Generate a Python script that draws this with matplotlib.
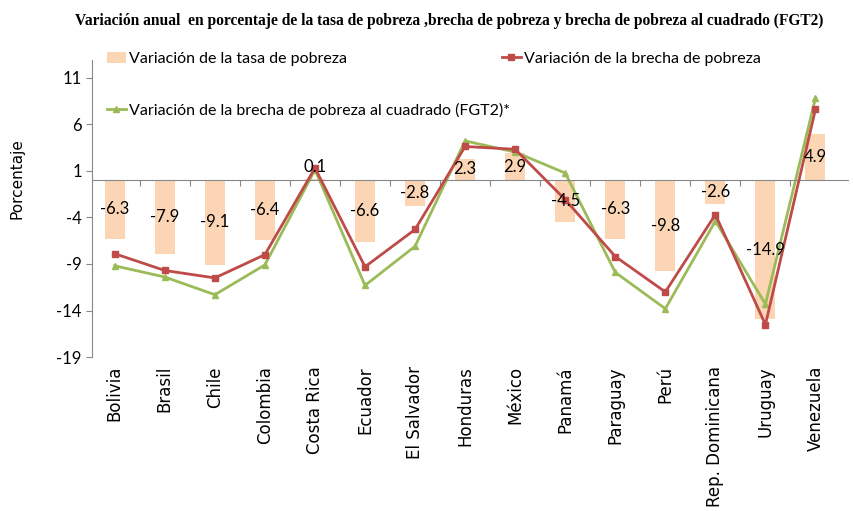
import numpy as np
import matplotlib.pyplot as plt
from matplotlib.transforms import blended_transform_factory

paises = ["Bolivia", "Brasil", "Chile", "Colombia", "Costa Rica", "Ecuador",
          "El Salvador", "Honduras", "México", "Panamá", "Paraguay", "Perú",
          "Rep. Dominicana", "Uruguay", "Venezuela"]
tasa = [-6.3, -7.9, -9.1, -6.4, 0.1, -6.6, -2.8, 2.3, 2.9, -4.5, -6.3, -9.8, -2.6, -14.9, 4.9]
brecha = [-7.9, -9.7, -10.5, -8.0, 1.3, -9.3, -5.3, 3.6, 3.3, -2.1, -8.2, -12.0, -3.7, -15.5, 7.6]
fgt2 = [-9.2, -10.4, -12.3, -9.1, 1.1, -11.3, -7.1, 4.2, 3.0, 0.75, -9.9, -13.8, -4.4, -13.3, 8.8]
yticks = [11, 6, 1, -4, -9, -14, -19]

c_bar = "#FCD5B5"
c_red = "#BE4B48"
c_green = "#9BBB59"
font = "Lato"

fig = plt.figure(figsize=(8.54, 5.11), dpi=100)
ax = fig.add_axes([0.108, 0.301, 0.885, 0.582])
x = np.arange(len(paises))

bars = ax.bar(x, tasa, width=0.4, color=c_bar, zorder=1,
              label="Variación de la tasa de pobreza")
l_red, = ax.plot(x, brecha, color=c_red, lw=2, marker="s", ms=5, zorder=3,
                 label="Variación de la brecha de pobreza")
l_green, = ax.plot(x, fgt2, color=c_green, lw=2, marker="^", ms=5, zorder=2,
                   label="Variación de la brecha de pobreza al cuadrado (FGT2)*")

for xi, v in zip(x, tasa):
    y = v / 2 if abs(v) > 1 else v + 1.3
    ax.text(xi, y, f"{v:.1f}", ha="center", va="center", fontsize=12,
            family=font, zorder=4)

ax.set_xlim(-0.45, len(paises) - 0.35)
ax.set_ylim(-19, 12.9)
ax.set_yticks(yticks)
ax.set_yticklabels([str(t) for t in yticks], family=font, fontsize=12)
ax.tick_params(axis="y", length=4, color="#888888")

ax.spines["top"].set_visible(False)
ax.spines["right"].set_visible(False)
ax.spines["left"].set_color("#888888")
ax.spines["bottom"].set_position(("data", 0))
ax.spines["bottom"].set_color("#888888")
ax.set_xticks(x[:-1] + 0.5)
ax.set_xticklabels([])
ax.tick_params(axis="x", direction="out", length=4, color="#888888")

trans = blended_transform_factory(ax.transData, ax.transAxes)
for xi, name in zip(x, paises):
    ax.text(xi, -0.03, name, rotation=90, ha="center", va="top",
            fontsize=12, family="DejaVu Sans", transform=trans)

ax.set_ylabel("Porcentaje", fontsize=11, family="DejaVu Sans")
ax.yaxis.set_label_coords(-0.09, 0.6)

fig.suptitle("Variación anual  en porcentaje de la tasa de pobreza ,brecha de pobreza y brecha de pobreza al cuadrado (FGT2)",
             x=0.526, y=0.975, fontsize=11.2, fontweight="bold", family="Liberation Serif")

leg1 = ax.legend(handles=[bars, l_green], loc="upper left", bbox_to_anchor=(0.0, 1.075),
                 frameon=False, prop={"family": font, "size": 11.5},
                 labelspacing=2.3, handlelength=1.2, handletextpad=0.2)
ax.add_artist(leg1)
ax.legend(handles=[l_red], loc="upper left", bbox_to_anchor=(0.523, 1.075),
          frameon=False, prop={"family": font, "size": 11.5},
          handlelength=1.2, handletextpad=0.2)

fig.savefig("out.png", dpi=100)
